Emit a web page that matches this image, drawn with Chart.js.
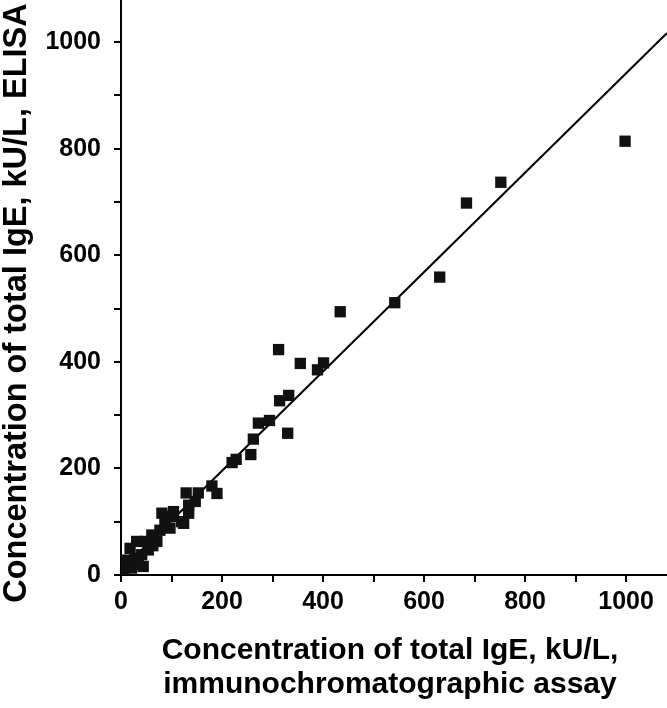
<!DOCTYPE html>
<html>
<head>
<meta charset="utf-8">
<script src="https://cdn.jsdelivr.net/npm/chart.js@4"></script>
<style>
  body { margin: 0; background: #fff; }
  #wrap { width: 667px; height: 708px; }
</style>
</head>
<body>
<div id="wrap"><canvas id="chart"></canvas></div>
<script>
// total IgE, kU/L: immunochromatographic assay (x) vs ELISA (y)
const icaValues = [998, 752, 684, 631, 542, 434, 312, 355, 401, 389, 332, 314, 294, 272, 330,
  262, 257, 228, 220, 180, 190, 153, 129, 147, 134, 134, 124, 104, 81, 87, 97, 77, 61, 71,
  48, 31, 18, 54, 41, 28, 11, 44, 8, 21, 5, 34, 63, 100, 120];
const elisaValues = [814, 737, 698, 559, 511, 494, 423, 397, 398, 385, 337, 327, 290, 285, 266,
  255, 226, 217, 211, 167, 153, 154, 154, 138, 131, 116, 97, 119, 116, 103, 88, 84, 75, 63,
  63, 63, 50, 47, 38, 31, 28, 16, 16, 13, 9, 19, 55, 110, 100];
// regression line end points
const fitX = [0, 1081];
const fitY = [9, 1017];
const xTitle = ["Concentration of total IgE, kU/L,", "immunochromatographic assay"];
const yTitle = "Concentration of total IgE, kU/L, ELISA";

const points = icaValues.map((x, i) => ({ x: x, y: elisaValues[i] }));
const fitLine = fitX.map((x, i) => ({ x: x, y: fitY[i] }));

const FONT = "'Liberation Sans', Arial, sans-serif";
Chart.defaults.font.family = FONT;
Chart.defaults.color = "#000";

const keepHundreds = (scale) => {
  scale.ticks = scale.ticks.filter((t) => t.value % 100 === 0);
};
const labelEvery200 = (v) => (v % 200 === 0 ? v : "");

// axis titles are a bit off the axis centres, so draw them by hand
const axisTitles = {
  id: "axisTitles",
  afterDraw(chart) {
    const ctx = chart.ctx;
    ctx.save();
    ctx.fillStyle = "#000";
    ctx.textAlign = "center";
    ctx.textBaseline = "middle";
    ctx.font = "bold 30px " + FONT;
    ctx.fillText(xTitle[0], 390, 651);
    ctx.fillText(xTitle[1], 390, 685);
    ctx.translate(17, 303);
    ctx.rotate(-Math.PI / 2);
    ctx.font = "bold 32.5px " + FONT;
    ctx.fillText(yTitle, 0, 0);
    ctx.restore();
  },
};

new Chart(document.getElementById("chart"), {
  type: "scatter",
  data: {
    datasets: [
      {
        data: points,
        pointStyle: "rect",
        pointRadius: 8,
        pointHoverRadius: 8,
        backgroundColor: "#111",
        borderWidth: 0,
      },
      {
        type: "line",
        data: fitLine,
        borderColor: "#000",
        borderWidth: 2,
        pointRadius: 0,
        fill: false,
      },
    ],
  },
  plugins: [axisTitles],
  options: {
    responsive: true,
    maintainAspectRatio: false,
    animation: false,
    layout: { padding: 0, autoPadding: false },
    plugins: { legend: { display: false }, tooltip: { enabled: false } },
    scales: {
      x: {
        type: "linear",
        min: 0,
        max: 1081,
        afterBuildTicks: keepHundreds,
        afterFit: (scale) => {
          scale.height = 133;
          scale.paddingLeft = 0;
          scale.paddingRight = 0;
        },
        border: { color: "#000", width: 2 },
        grid: { drawOnChartArea: false, color: "#000", lineWidth: 2, tickLength: 7 },
        ticks: {
          stepSize: 100,
          includeBounds: false,
          autoSkip: false,
          maxRotation: 0,
          padding: 5,
          callback: labelEvery200,
          font: { size: 25, weight: "bold" },
        },
      },
      y: {
        type: "linear",
        min: 0,
        max: 1079,
        afterBuildTicks: keepHundreds,
        afterFit: (scale) => {
          scale.width = 121;
          scale.paddingTop = 0;
          scale.paddingBottom = 0;
        },
        border: { color: "#000", width: 2 },
        grid: { drawOnChartArea: false, color: "#000", lineWidth: 2, tickLength: 7 },
        ticks: {
          stepSize: 100,
          includeBounds: false,
          autoSkip: false,
          padding: 13,
          callback: labelEvery200,
          font: { size: 25, weight: "bold" },
        },
      },
    },
  },
});
</script>
</body>
</html>
